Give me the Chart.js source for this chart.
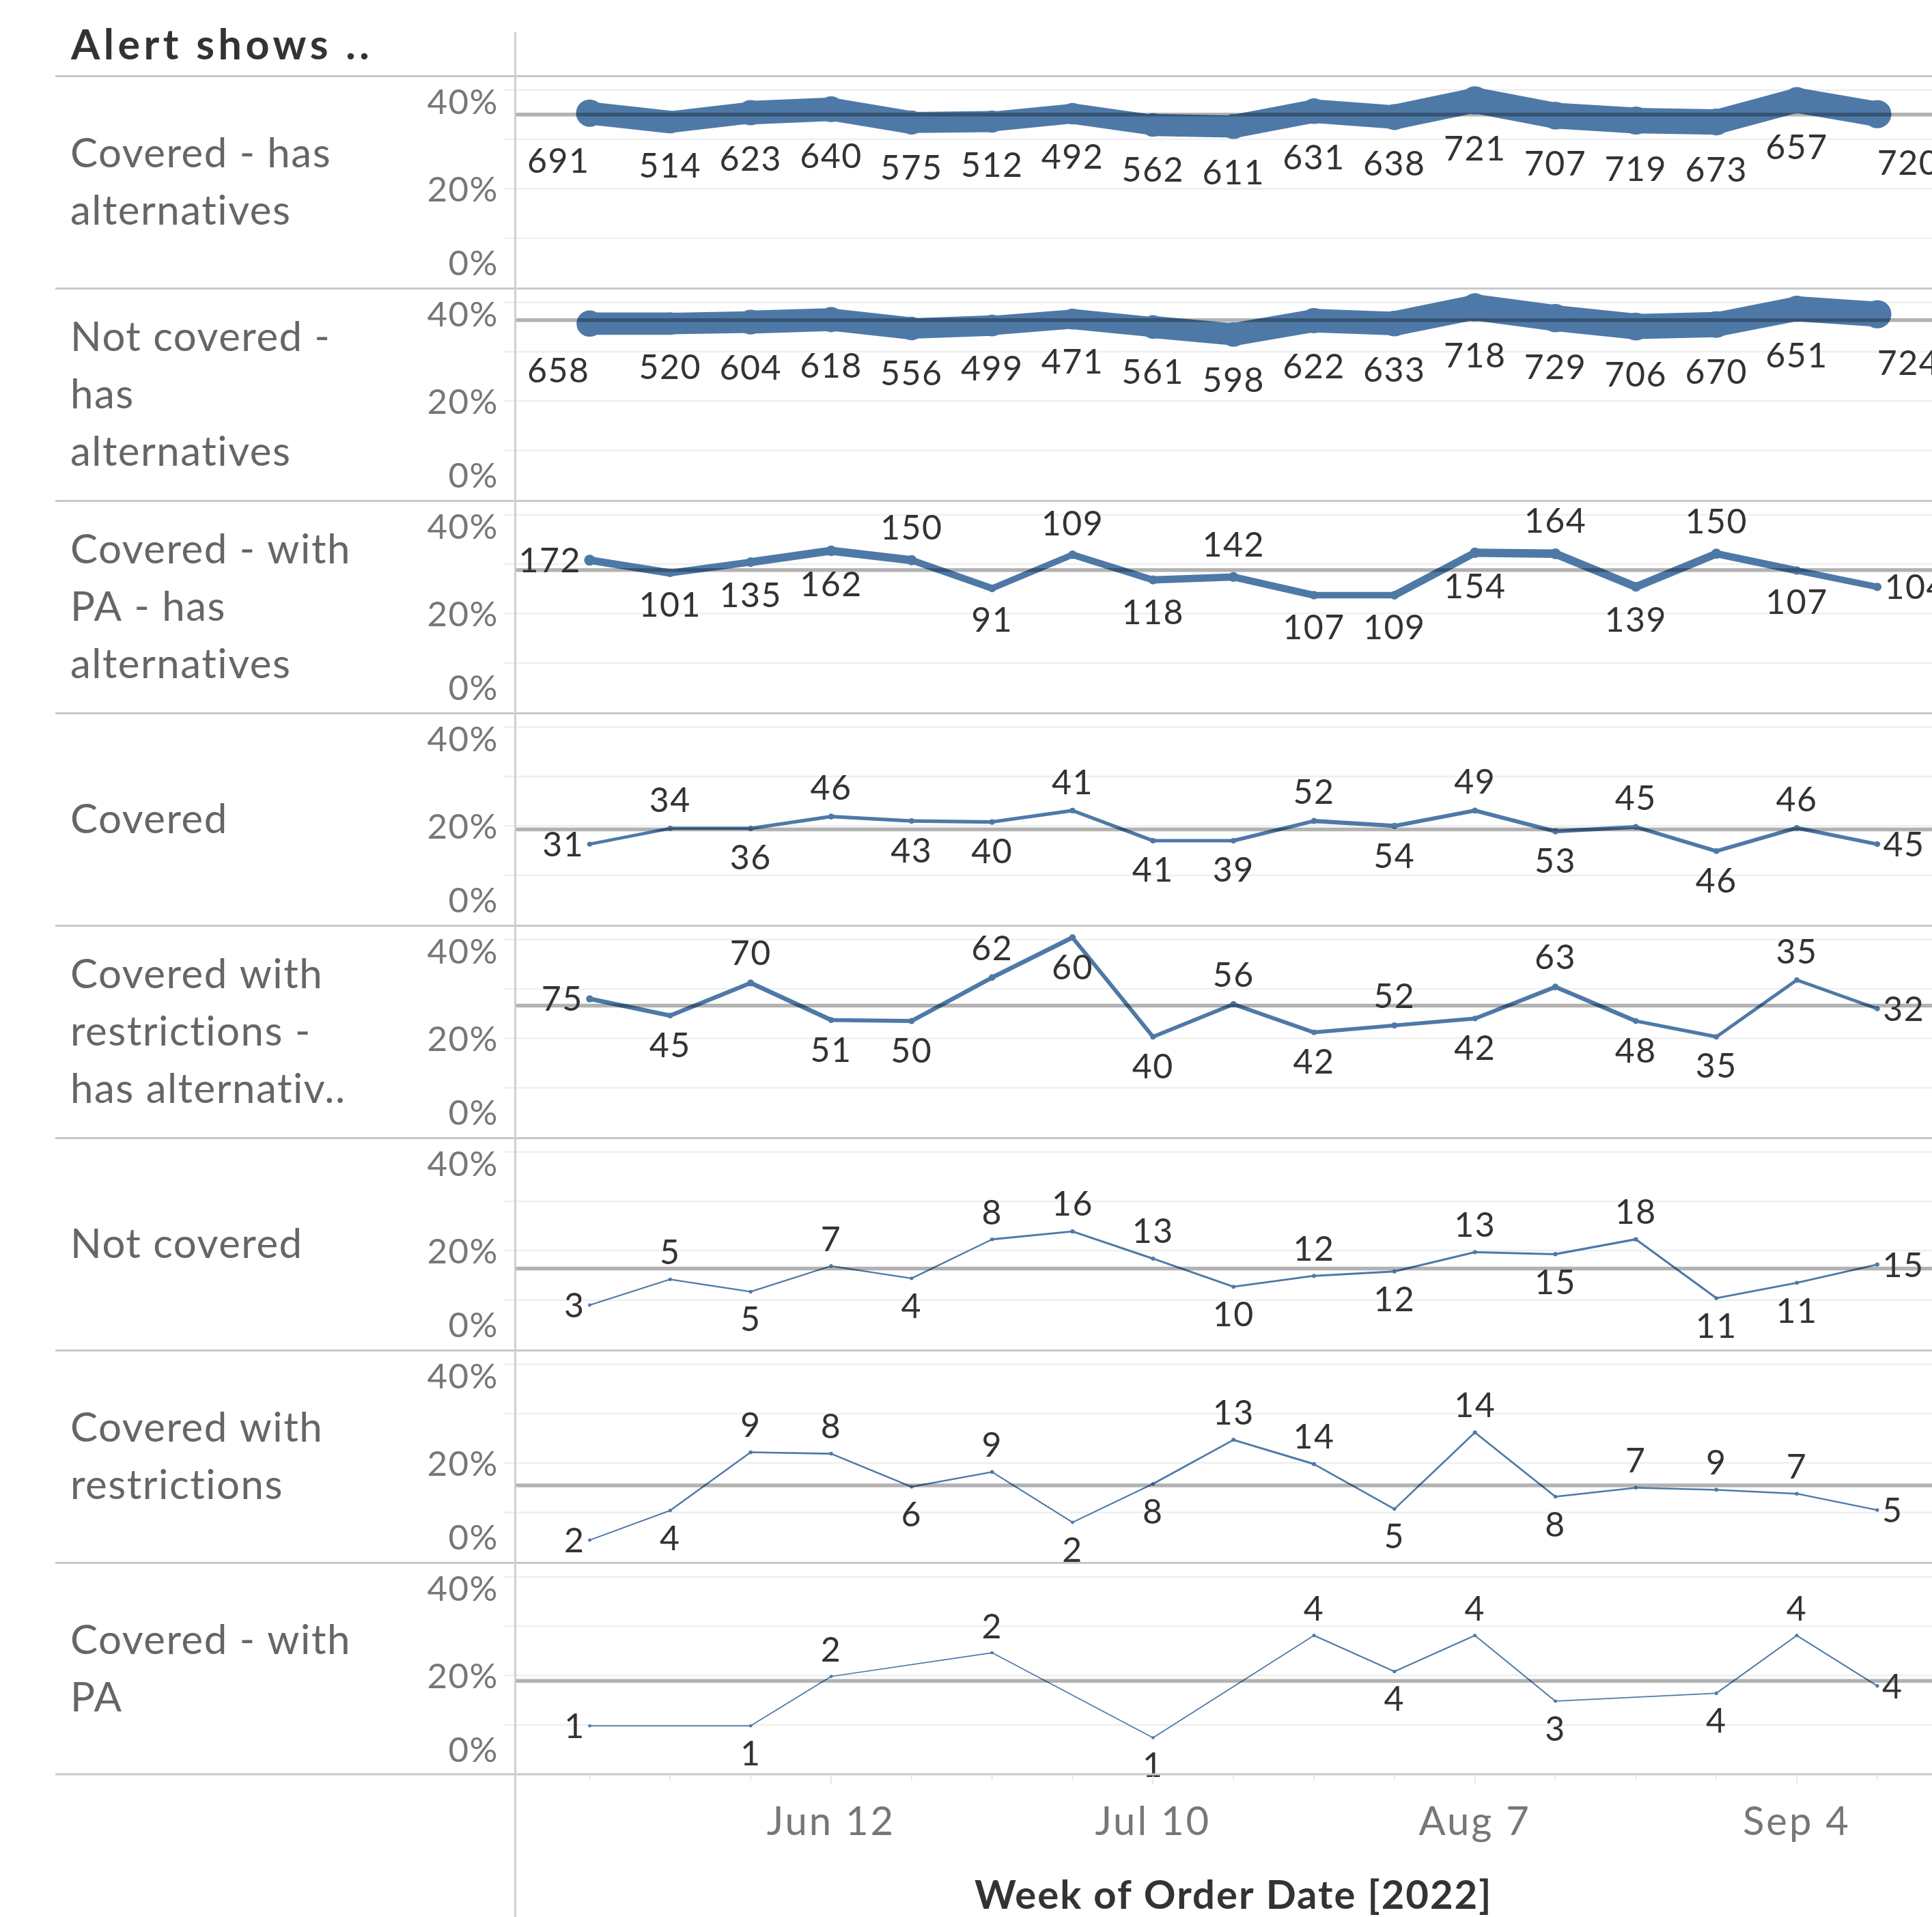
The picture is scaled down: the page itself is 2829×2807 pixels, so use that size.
<!DOCTYPE html>
<html>
<head>
<meta charset="utf-8">
<script src="https://cdn.jsdelivr.net/npm/chart.js@4.4.1/dist/chart.umd.min.js"></script>
<style>
  html, body { margin: 0; padding: 0; background: #fff; overflow: hidden; }
  #page { position: relative; width: 2829px; height: 2807px; overflow: hidden; background: #fff; }
  #page canvas { position: absolute; left: 0; }
  #title { position: absolute; left: 104px; top: 33px; font: bold 61px Lato, sans-serif; line-height: 61px;
           color: #333; letter-spacing: 5.5px; white-space: nowrap; }
  #divider { position: absolute; left: 753px; top: 47px; width: 3px; height: 2760px; background: #d0d0d0; z-index: 2; }
</style>
</head>
<body>
<div id="page">
  <div id="title">Alert shows ..</div>
  <div id="divider"></div>
</div>
<script>
const weeks = ['May 22', 'May 29', 'Jun 5', 'Jun 12', 'Jun 19', 'Jun 26', 'Jul 3', 'Jul 10', 'Jul 17',
               'Jul 24', 'Jul 31', 'Aug 7', 'Aug 14', 'Aug 21', 'Aug 28', 'Sep 4', 'Sep 11'];
const xTickLabels = ['Jun 12', 'Jul 10', 'Aug 7', 'Sep 4'];
const xAxisTitle = 'Week of Order Date [2022]';
const yTickValues = [0, 20, 40];
const yGridValues = [10, 20, 30, 40];

const rowNames = [
  ['Covered - has', 'alternatives'],
  ['Not covered -', 'has', 'alternatives'],
  ['Covered - with', 'PA - has', 'alternatives'],
  ['Covered'],
  ['Covered with', 'restrictions -', 'has alternativ..'],
  ['Not covered'],
  ['Covered with', 'restrictions'],
  ['Covered - with', 'PA']
];

// % of orders per week (line) and number of orders (label / line size)
const coveredAltPct = [35.3, 33.5, 35.4, 36.1, 33.4, 33.6, 35.2, 32.9, 32.6, 35.7, 34.5, 37.9, 34.8, 33.8, 33.5, 37.9, 35.1];
const coveredAltCount = [691, 514, 623, 640, 575, 512, 492, 562, 611, 631, 638, 721, 707, 719, 673, 657, 720];
const notCoveredAltPct = [35.7, 35.7, 36.0, 36.5, 34.7, 35.3, 36.6, 35.0, 33.5, 36.3, 35.7, 39.0, 36.8, 35.1, 35.5, 38.7, 37.6];
const notCoveredAltCount = [658, 520, 604, 618, 556, 499, 471, 561, 598, 622, 633, 718, 729, 706, 670, 651, 724];
const coveredPaAltPct = [30.8, 28.2, 30.4, 32.7, 30.8, 25.1, 31.9, 26.8, 27.4, 23.7, 23.7, 32.3, 32.1, 25.4, 32.1, 28.7, 25.4];
const coveredPaAltCount = [172, 101, 135, 162, 150, 91, 109, 118, 142, 107, 109, 154, 164, 139, 150, 107, 104];
const coveredPct = [16.3, 19.5, 19.5, 21.9, 21.0, 20.8, 23.1, 17.0, 17.0, 21.0, 20.0, 23.1, 18.9, 19.8, 14.9, 19.6, 16.3];
const coveredCount = [31, 34, 36, 46, 43, 40, 41, 41, 39, 52, 54, 49, 53, 45, 46, 46, 45];
const restrictAltPct = [28.0, 24.6, 31.2, 23.7, 23.5, 32.3, 40.4, 20.3, 26.9, 21.2, 22.6, 24.0, 30.4, 23.5, 20.3, 31.8, 26.0];
const restrictAltCount = [75, 45, 70, 51, 50, 62, 60, 40, 56, 42, 52, 42, 63, 48, 35, 35, 32];
const notCoveredPct = [9.0, 14.2, 11.7, 16.9, 14.4, 22.3, 23.9, 18.4, 12.7, 14.9, 15.8, 19.7, 19.3, 22.3, 10.4, 13.5, 17.2];
const notCoveredCount = [3, 5, 5, 7, 4, 8, 16, 13, 10, 12, 12, 13, 15, 18, 11, 11, 15];
const restrictPct = [4.4, 10.4, 22.2, 21.9, 15.2, 18.2, 8.0, 15.8, 24.7, 19.8, 10.7, 26.2, 13.2, 15.0, 14.6, 13.8, 10.5];
const restrictCount = [2, 4, 9, 8, 6, 9, 2, 8, 13, 14, 5, 14, 8, 7, 9, 7, 5];
const coveredPaPct = [9.8, null, 9.8, 19.8, null, 24.6, null, 7.4, null, 28.1, 20.8, 28.1, 14.8, null, 16.4, 28.1, 17.9];
const coveredPaCount = [1, null, 1, 2, null, 2, null, 1, null, 4, 4, 4, 3, null, 4, 4, 4];

// average reference line per row (%)
const averageLines = [35.0, 36.4, 28.8, 19.3, 26.6, 16.4, 15.5, 18.9];

const rows = [
  [coveredAltPct, coveredAltCount], [notCoveredAltPct, notCoveredAltCount],
  [coveredPaAltPct, coveredPaAltCount], [coveredPct, coveredCount],
  [restrictAltPct, restrictAltCount], [notCoveredPct, notCoveredCount],
  [restrictPct, restrictCount], [coveredPaPct, coveredPaCount]
].map((r, i) => ({ names: rowNames[i], pct: r[0], count: r[1], avg: averageLines[i] }));

const BLUE = '#4e79a7';
const PANE_LEFT = 754, ROW_TOP = 110, ROW_H = 311, AXIS_H = 209, PAGE_W = 2829;
const LABEL_CAP = 36;

// Tableau sizes the line by order count
function widthFor(count) {
  return 1.5 + 0.19 * Math.pow(count, 0.8);
}

function neighbour(pct, j, step) {
  for (let k = j + step; k >= 0 && k < pct.length; k += step) {
    if (pct[k] != null) return pct[k];
  }
  return null;
}

function rowPlugin(row, isLast) {
  return {
    id: 'rowDecor',
    beforeDatasetsDraw(chart) {
      const { ctx, chartArea: area, scales: { y } } = chart;
      ctx.save();
      ctx.strokeStyle = '#efefef';
      ctx.lineWidth = 2.5;
      yGridValues.forEach(v => {
        const py = y.getPixelForValue(v);
        ctx.beginPath();
        ctx.moveTo(area.left - 16, py);
        ctx.lineTo(area.right, py);
        ctx.stroke();
      });
      ctx.fillStyle = '#c8c8c8';
      ctx.fillRect(81, 0, chart.width - 81, 3);

      // tick labels are pushed inside the row, as in Tableau
      ctx.font = '51px Lato';
      ctx.letterSpacing = '1.5px';
      ctx.fillStyle = '#777';
      ctx.textAlign = 'right';
      ctx.textBaseline = 'alphabetic';
      yTickValues.forEach(v => {
        let top = y.getPixelForValue(v) - 18.5;
        top = Math.max(area.top + 20, Math.min(area.bottom - 18 - 37, top));
        ctx.fillText(v + '%', area.left - 24, top + 37);
      });

      ctx.font = '60px Lato';
      ctx.letterSpacing = '1.5px';
      ctx.fillStyle = '#666';
      ctx.textAlign = 'left';
      const cy = (area.top + area.bottom) / 2;
      const n = row.names.length;
      row.names.forEach((s, k) => ctx.fillText(s, 103, cy + 21.5 + (k - (n - 1) / 2) * 84));
      ctx.restore();
    },
    afterDatasetsDraw(chart) {
      const { ctx, chartArea: area, scales: { y } } = chart;
      ctx.save();
      const ay = y.getPixelForValue(row.avg);
      ctx.strokeStyle = 'rgba(0,0,0,0.3)';
      ctx.lineWidth = 5.5;
      ctx.beginPath();
      ctx.moveTo(area.left, ay);
      ctx.lineTo(area.right, ay);
      ctx.stroke();

      const meta = chart.getDatasetMeta(0);
      ctx.font = '50px Lato';
      ctx.letterSpacing = '1.5px';
      ctx.fillStyle = '#333';
      ctx.textBaseline = 'alphabetic';
      row.pct.forEach((v, j) => {
        if (v == null) return;
        const pt = meta.data[j];
        const w = widthFor(row.count[j]);
        const prev = neighbour(row.pct, j, -1);
        const next = neighbour(row.pct, j, 1);
        const off = 20 + 0.85 * w;
        const text = String(row.count[j]);
        if (prev == null || next == null) {
          ctx.textAlign = prev == null ? 'right' : 'left';
          if (w < 20) {
            const dx = (prev == null ? -1 : 1) * (w / 2 + 6);
            ctx.fillText(text, pt.x + dx, pt.y + LABEL_CAP / 2);
          } else {
            ctx.fillText(text, pt.x, pt.y + off + LABEL_CAP);
          }
          return;
        }
        let above = v >= (prev + next) / 2;
        if (above && pt.y - off - LABEL_CAP < area.top + 12) above = false;
        ctx.textAlign = 'center';
        ctx.fillText(text, pt.x, above ? pt.y - off : pt.y + off + LABEL_CAP);
      });
      ctx.restore();
    },
    afterDraw(chart) {
      if (!isLast) return;
      const { ctx, chartArea: area, scales: { x } } = chart;
      ctx.save();
      ctx.fillStyle = '#c8c8c8';
      ctx.fillRect(81, area.bottom - 1.5, chart.width - 81, 3);
      ctx.strokeStyle = '#e0e0e0';
      ctx.lineWidth = 1.5;
      weeks.forEach((wk, i) => {
        const px = x.getPixelForValue(i);
        ctx.beginPath();
        ctx.moveTo(px, area.bottom + 2);
        ctx.lineTo(px, area.bottom + (xTickLabels.includes(wk) ? 15 : 9));
        ctx.stroke();
      });
      ctx.font = '58px Lato';
      ctx.fillStyle = '#777';
      ctx.textAlign = 'center';
      ctx.letterSpacing = '3px';
      xTickLabels.forEach(lbl => {
        ctx.fillText(lbl, x.getPixelForValue(weeks.indexOf(lbl)), area.bottom + 89);
      });
      ctx.font = 'bold 58px Lato';
      ctx.fillStyle = '#333';
      ctx.letterSpacing = '2px';
      ctx.fillText(xAxisTitle, x.getPixelForValue((weeks.length - 1) / 2), area.bottom + 197);
      ctx.restore();
    }
  };
}

function drawAll() {
  const page = document.getElementById('page');
  rows.forEach((row, i) => {
    const isLast = i === rows.length - 1;
    const canvas = document.createElement('canvas');
    canvas.width = PAGE_W;
    canvas.height = ROW_H + (isLast ? AXIS_H : 0);
    canvas.style.top = (ROW_TOP + i * ROW_H) + 'px';
    page.appendChild(canvas);

    const count = row.count;
    new Chart(canvas, {
      type: 'line',
      data: {
        datasets: [{
          data: row.pct.map((v, j) => ({ x: j, y: v })),
          borderColor: BLUE,
          backgroundColor: BLUE,
          borderWidth: widthFor(Math.max(...count.filter(c => c != null))),
          borderJoinStyle: 'round',
          borderCapStyle: 'round',
          tension: 0,
          spanGaps: true,
          clip: false,
          pointRadius: ctx => count[ctx.dataIndex] == null ? 0 : widthFor(count[ctx.dataIndex]) / 2 + 1.5,
          pointBorderWidth: 0,
          segment: {
            borderWidth: ctx => (widthFor(count[ctx.p0DataIndex]) + widthFor(count[ctx.p1DataIndex])) / 2
          }
        }]
      },
      options: {
        responsive: false,
        animation: false,
        events: [],
        layout: {
          autoPadding: false,
          padding: { left: PANE_LEFT, right: 0, top: 0, bottom: isLast ? AXIS_H : 0 }
        },
        scales: {
          x: { type: 'linear', min: -0.929, max: 16.68, display: false },
          y: { min: 0, max: 43, display: false }
        },
        plugins: { legend: { display: false }, tooltip: { enabled: false } }
      },
      plugins: [rowPlugin(row, isLast)]
    });
  });
}

Promise.all([
  document.fonts.load('50px Lato'),
  document.fonts.load('bold 58px Lato')
]).catch(() => {}).then(drawAll);
</script>
</body>
</html>
